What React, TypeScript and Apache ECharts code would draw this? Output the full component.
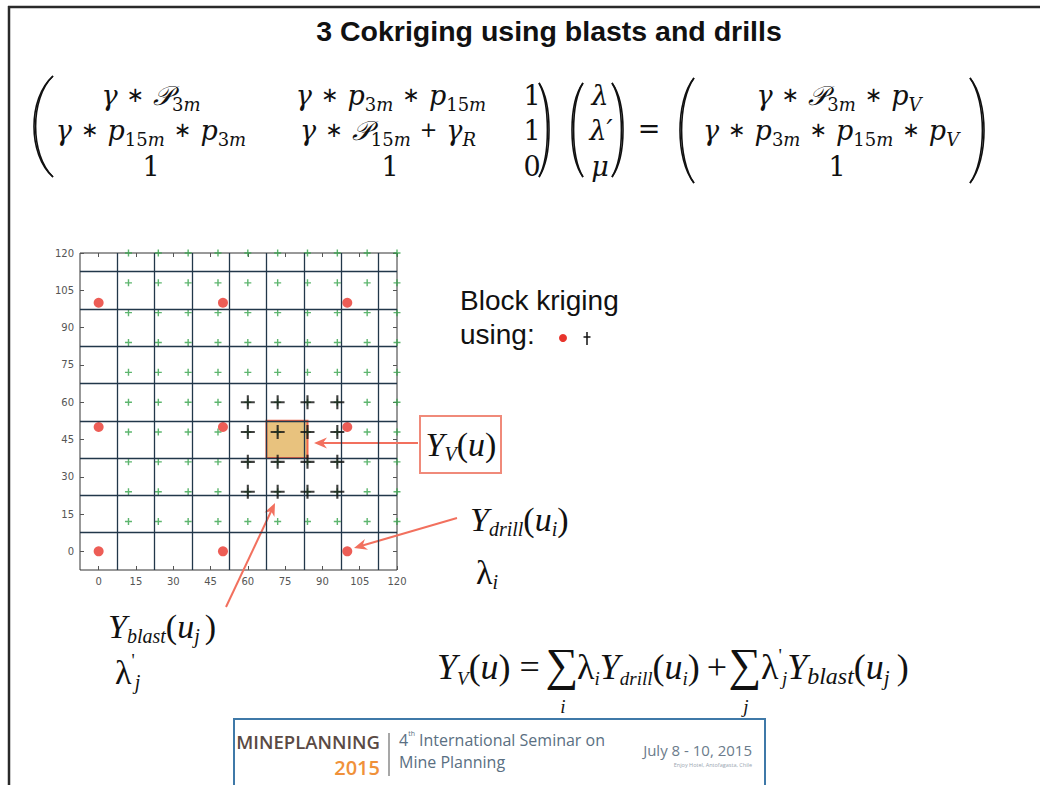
import React, { useEffect, useRef } from 'react';
import * as echarts from 'echarts';

// ---------------- data ----------------
const tickValues = [0, 15, 30, 45, 60, 75, 90, 105, 120];
const cellEdges = [7.5, 22.5, 37.5, 52.5, 67.5, 82.5, 97.5, 112.5];
const axisMin = -7.5;
const axisMax = 120;
const drillXs = [0, 50, 100];
const drillYs = [0, 50, 100];
const blastXs = [12, 24, 36, 48, 60, 72, 84, 96, 108, 120];
const blastYs = [12, 24, 36, 48, 60, 72, 84, 96, 108, 120];
const nearBlastXs = [60, 72, 84, 96];
const nearBlastYs = [24, 36, 48, 60];
const blockFrom = [67.5, 37.5];
const blockTo = [84, 52.5];

const cross = (xs: number[], ys: number[]) => xs.flatMap((x) => ys.map((y) => [x, y]));

const SERIF = "'Liberation Serif', 'Times New Roman', serif";
const MATH = "'DejaVu Serif', serif";
const SANS = "'Liberation Sans', Arial, sans-serif";
const LOGO = "'Open Sans', 'Noto Sans', sans-serif";
const ARROW = '#f2705e';

const plusPath = (t: number) =>
  `path://M${0.5 - t},0H${0.5 + t}V${0.5 - t}H1V${0.5 + t}H${0.5 + t}V1H${0.5 - t}V${0.5 + t}H0V${0.5 - t}H${0.5 - t}Z`;

const mathRich: any = {
  v: { fontFamily: MATH, fontStyle: 'italic', fontSize: 27, lineHeight: 36 },
  n: { fontFamily: MATH, fontSize: 27, lineHeight: 36 },
  o: { fontFamily: "'DejaVu Sans'", fontSize: 21, lineHeight: 36, padding: [0, 9] },
  P: { fontFamily: MATH, fontStyle: 'italic', fontSize: 27, lineHeight: 36 },
  sd: { fontFamily: MATH, fontSize: 18, lineHeight: 19, verticalAlign: 'bottom' },
  sm: { fontFamily: MATH, fontStyle: 'italic', fontSize: 18, lineHeight: 19, verticalAlign: 'bottom' },
};

const tRich: any = {
  Y: { fontFamily: SERIF, fontStyle: 'italic', fontSize: 34, lineHeight: 40 },
  p: { fontFamily: SERIF, fontSize: 34, lineHeight: 40 },
  L: { fontFamily: SERIF, fontSize: 34, lineHeight: 40 },
  s: { fontFamily: SERIF, fontStyle: 'italic', fontSize: 20, lineHeight: 18, verticalAlign: 'bottom' },
  sp: { fontFamily: SERIF, fontSize: 18, lineHeight: 16, verticalAlign: 'top' },
  sj: { fontFamily: SERIF, fontStyle: 'italic', fontSize: 20, lineHeight: 18, verticalAlign: 'bottom', padding: [0, 5, 0, 0] },
};

const bRich: any = {
  Y: { fontFamily: SERIF, fontStyle: 'italic', fontSize: 36, lineHeight: 42 },
  p: { fontFamily: SERIF, fontSize: 36, lineHeight: 42 },
  L: { fontFamily: SERIF, fontSize: 36, lineHeight: 42 },
  S: { fontFamily: SERIF, fontSize: 46, lineHeight: 42 },
  s: { fontFamily: SERIF, fontStyle: 'italic', fontSize: 19, lineHeight: 19, verticalAlign: 'bottom' },
  sp: { fontFamily: SERIF, fontSize: 19, lineHeight: 17, verticalAlign: 'top' },
  sb: { fontFamily: SERIF, fontStyle: 'italic', fontSize: 24, lineHeight: 19, verticalAlign: 'bottom' },
  sj: { fontFamily: SERIF, fontStyle: 'italic', fontSize: 21, lineHeight: 19, verticalAlign: 'bottom', padding: [0, 7, 0, 0] },
};

function mtext(x: number, y: number, text: string, rich: any, align = 'center') {
  return {
    type: 'text',
    x,
    y,
    silent: true,
    style: { text, rich, fill: '#111', align, verticalAlign: 'middle' },
  };
}

function paren(xEnd: number, xMid: number, yTop: number, yBot: number) {
  const h = yBot - yTop;
  const mk = (m: number, w: number) => {
    const c = (8 * m - 2 * xEnd) / 6;
    return {
      type: 'bezierCurve',
      silent: true,
      shape: { x1: xEnd, y1: yTop, cpx1: c, cpy1: yTop + h * 0.22, cpx2: c, cpy2: yBot - h * 0.22, x2: xEnd, y2: yBot },
      style: { stroke: '#111', lineWidth: w, fill: null },
    };
  };
  const dir = xMid < xEnd ? 1 : -1;
  return [mk(xMid, 1.6), mk(xMid + dir * 1.6, 1.6)];
}

function arrow(x1: number, y1: number, x2: number, y2: number) {
  const dx = x2 - x1;
  const dy = y2 - y1;
  const len = Math.hypot(dx, dy);
  const ux = dx / len;
  const uy = dy / len;
  const nx = -uy;
  const ny = ux;
  const L = 13;
  const W = 5.5;
  const bx = x2 - ux * L;
  const by = y2 - uy * L;
  return [
    {
      type: 'line',
      silent: true,
      shape: { x1, y1, x2: x2 - ux * 8, y2: y2 - uy * 8 },
      style: { stroke: ARROW, lineWidth: 2 },
    },
    {
      type: 'polygon',
      silent: true,
      shape: {
        points: [
          [x2, y2],
          [bx + nx * W, by + ny * W],
          [x2 - ux * 9, y2 - uy * 9],
          [bx - nx * W, by - ny * W],
        ],
      },
      style: { fill: ARROW },
    },
  ];
}

export default function App() {
  const ref = useRef<HTMLDivElement>(null);

  useEffect(() => {
    if (!ref.current) return;
    const chart = echarts.init(ref.current, null, { renderer: 'svg' });

    const axisCommon = {
      type: 'value',
      min: axisMin,
      max: axisMax,
      axisLine: { show: false, onZero: false },
      splitLine: { show: false },
    };
    const tickStyle = { inside: true, length: 4, customValues: tickValues, lineStyle: { color: '#555' } };
    const labelStyle = { customValues: tickValues, color: '#555', fontSize: 10, fontFamily: "'DejaVu Sans'", margin: 6 };

    const graphicEls: any[] = [
      // slide frame
      { type: 'line', silent: true, shape: { x1: 8, y1: 7, x2: 1040, y2: 7 }, style: { stroke: '#2a2a2a', lineWidth: 2.5 } },
      { type: 'line', silent: true, shape: { x1: 9, y1: 6, x2: 9, y2: 785 }, style: { stroke: '#2a2a2a', lineWidth: 2.5 } },
      // title
      {
        type: 'text',
        x: 549,
        y: 31,
        silent: true,
        style: {
          text: '3 Cokriging using blasts and drills',
          fontFamily: SANS,
          fontWeight: 'bold',
          fontSize: 28.5,
          fill: '#111',
          align: 'center',
          verticalAlign: 'middle',
        },
      },
      // matrix equation
      ...paren(53, 34, 76, 177),
      mtext(151, 95, '{v|γ}{o|∗}{P|𝒫}{sd|3}{sm|m}', mathRich),
      mtext(151, 130, '{v|γ}{o|∗}{v|p}{sd|15}{sm|m}{o|∗}{v|p}{sd|3}{sm|m}', mathRich),
      mtext(151, 166, '{n|1}', mathRich),
      mtext(391, 95, '{v|γ}{o|∗}{v|p}{sd|3}{sm|m}{o|∗}{v|p}{sd|15}{sm|m}', mathRich),
      mtext(388, 130, '{v|γ}{o|∗}{P|𝒫}{sd|15}{sm|m}{o|+}{v|γ}{sm|R}', mathRich),
      mtext(390, 166, '{n|1}', mathRich),
      mtext(532, 95, '{n|1}', mathRich),
      mtext(532, 130, '{n|1}', mathRich),
      mtext(532, 166, '{n|0}', mathRich),
      ...paren(539, 549, 83, 177),
      ...paren(583, 572, 83, 177),
      mtext(600, 95, '{v|λ}', mathRich),
      mtext(601, 130, '{v|λ′}', mathRich),
      mtext(600, 166, '{v|μ}', mathRich),
      ...paren(612, 623, 83, 177),
      mtext(649, 128, '{n|=}', mathRich),
      ...paren(694, 680, 78, 183),
      mtext(839, 95, '{v|γ}{o|∗}{P|𝒫}{sd|3}{sm|m}{o|∗}{v|p}{sm|V}', mathRich),
      mtext(831, 130, '{v|γ}{o|∗}{v|p}{sd|3}{sm|m}{o|∗}{v|p}{sd|15}{sm|m}{o|∗}{v|p}{sm|V}', mathRich),
      mtext(837, 166, '{n|1}', mathRich),
      ...paren(970, 984, 78, 183),
      // legend-like note
      {
        type: 'text',
        x: 460,
        y: 300,
        silent: true,
        style: { text: 'Block kriging', fontFamily: SANS, fontSize: 28, fill: '#111', align: 'left', verticalAlign: 'middle' },
      },
      {
        type: 'text',
        x: 460,
        y: 334,
        silent: true,
        style: { text: 'using:', fontFamily: SANS, fontSize: 28, fill: '#111', align: 'left', verticalAlign: 'middle' },
      },
      { type: 'circle', silent: true, shape: { cx: 563, cy: 338, r: 4 }, style: { fill: '#e8342c' } },
      { type: 'line', silent: true, shape: { x1: 587, y1: 332, x2: 587, y2: 345 }, style: { stroke: '#111', lineWidth: 1.5 } },
      { type: 'line', silent: true, shape: { x1: 583.5, y1: 337, x2: 590.5, y2: 337 }, style: { stroke: '#111', lineWidth: 1.5 } },
      // Y_V(u) box
      { type: 'rect', silent: true, shape: { x: 420, y: 416, width: 81, height: 57 }, style: { fill: '#fff', stroke: '#f08a7a', lineWidth: 2 } },
      mtext(461, 444, '{Y|Y}{s|V}{p|(}{Y|u}{p|)}', tRich),
      ...arrow(418, 443, 314, 443),
      // drill label
      mtext(470, 519, '{Y|Y}{s|drill}{p|(}{Y|u}{s|i}{p|)}', tRich, 'left'),
      mtext(476, 572, '{L|λ}{s|i}', tRich, 'left'),
      ...arrow(457, 518, 354, 548),
      // blast label
      mtext(108, 626, '{Y|Y}{s|blast}{p|(}{Y|u}{sj|j}{p|)}', tRich, 'left'),
      mtext(115, 672, "{L|λ}{sp|'}{s|j}", tRich, 'left'),
      ...arrow(226, 607, 275, 503),
      // bottom formula
      mtext(437, 667, '{Y|Y}{s|V}{p|(}{Y|u}{p|) =}', bRich, 'left'),
      mtext(562, 664, '{S|∑}', bRich),
      mtext(577, 667, '{L|λ}{s|i}{Y|Y}{s|drill}{p|(}{Y|u}{s|i}{p|)}', bRich, 'left'),
      mtext(717, 667, '{p|+}', bRich),
      mtext(745, 664, '{S|∑}', bRich),
      mtext(761, 667, "{L|λ}{sp|'}{s|j}{Y|Y}{sb|blast}{p|(}{Y|u}{sj|j}{p|)}", bRich, 'left'),
      mtext(563, 706, '{s|i}', bRich),
      mtext(746, 706, '{s|j}', bRich),
      // conference logo
      { type: 'rect', silent: true, shape: { x: 234, y: 719, width: 531, height: 80 }, style: { fill: '#fff', stroke: '#3f79a8', lineWidth: 2 } },
      {
        type: 'text', x: 380, y: 741, silent: true,
        style: { text: 'MINEPLANNING', fontFamily: LOGO, fontWeight: 600, fontSize: 18.5, fill: '#5a4a44', align: 'right', verticalAlign: 'middle' },
      },
      {
        type: 'text', x: 380, y: 767, silent: true,
        style: { text: '2015', fontFamily: LOGO, fontWeight: 600, fontSize: 20, fill: '#f0913a', align: 'right', verticalAlign: 'middle' },
      },
      { type: 'line', silent: true, shape: { x1: 389, y1: 733, x2: 389, y2: 776 }, style: { stroke: '#8a8a8a', lineWidth: 1.5 } },
      {
        type: 'text', x: 399, y: 740, silent: true,
        style: {
          text: '{a|4}{b|th}{a| International Seminar on}',
          fill: '#5a6f82', align: 'left', verticalAlign: 'middle',
          rich: {
            a: { fontFamily: LOGO, fontSize: 16, lineHeight: 20 },
            b: { fontFamily: LOGO, fontSize: 7, lineHeight: 10, verticalAlign: 'top' },
          },
        },
      },
      {
        type: 'text', x: 399, y: 762, silent: true,
        style: { text: 'Mine Planning', fontFamily: LOGO, fontSize: 16, fill: '#5a6f82', align: 'left', verticalAlign: 'middle' },
      },
      {
        type: 'text', x: 752, y: 750, silent: true,
        style: { text: 'July 8 - 10, 2015', fontFamily: LOGO, fontSize: 15, fill: '#6b7b8b', align: 'right', verticalAlign: 'middle' },
      },
      {
        type: 'text', x: 752, y: 765, silent: true,
        style: { text: 'Enjoy Hotel, Antofagasta, Chile', fontFamily: LOGO, fontSize: 5.5, fill: '#9aa6b0', align: 'right', verticalAlign: 'middle' },
      },
    ];

    const option: any = {
      animation: false,
      backgroundColor: '#ffffff',
      grid: {
        left: 80,
        top: 253,
        width: 317,
        height: 317,
        show: true,
        borderColor: '#333',
        borderWidth: 1,
        backgroundColor: '#fff',
      },
      xAxis: [
        { ...axisCommon, position: 'bottom', axisTick: tickStyle, axisLabel: labelStyle },
        { ...axisCommon, position: 'top', axisTick: tickStyle, axisLabel: { show: false } },
      ],
      yAxis: [
        { ...axisCommon, position: 'left', axisTick: tickStyle, axisLabel: labelStyle },
        { ...axisCommon, position: 'right', axisTick: tickStyle, axisLabel: { show: false } },
      ],
      series: [
        {
          name: 'cells',
          type: 'scatter',
          data: [],
          z: 1,
          silent: true,
          markLine: {
            silent: true,
            symbol: ['none', 'none'],
            label: { show: false },
            lineStyle: { color: '#22374a', width: 1.3, type: 'solid' },
            data: [...cellEdges.map((v) => ({ xAxis: v })), ...cellEdges.map((v) => ({ yAxis: v }))],
          },
        },
        {
          name: 'block',
          type: 'scatter',
          data: [],
          z: 2,
          silent: true,
          markArea: {
            silent: true,
            itemStyle: { color: '#e8c27e', borderColor: '#f0664a', borderWidth: 2 },
            data: [[{ coord: blockFrom }, { coord: blockTo }]],
          },
        },
        {
          name: 'blasts',
          type: 'scatter',
          z: 3,
          silent: true,
          symbol: plusPath(0.1),
          symbolSize: 7,
          itemStyle: { color: '#34a24a' },
          data: cross(blastXs, blastYs),
        },
        {
          name: 'drills',
          type: 'scatter',
          z: 4,
          silent: true,
          symbol: 'circle',
          symbolSize: 10,
          itemStyle: { color: '#e8342c' },
          data: cross(drillXs, drillYs),
        },
        {
          name: 'nearby blasts',
          type: 'scatter',
          z: 5,
          silent: true,
          symbol: plusPath(0.075),
          symbolSize: 14,
          itemStyle: { color: '#111' },
          data: cross(nearBlastXs, nearBlastYs),
        },
      ],
      graphic: { elements: graphicEls },
    };

    chart.setOption(option);
    return () => chart.dispose();
  }, []);

  return (
    <div
      ref={ref}
      style={{ position: 'fixed', left: 0, top: 0, width: 1040, height: 785, background: '#fff' }}
    />
  );
}
